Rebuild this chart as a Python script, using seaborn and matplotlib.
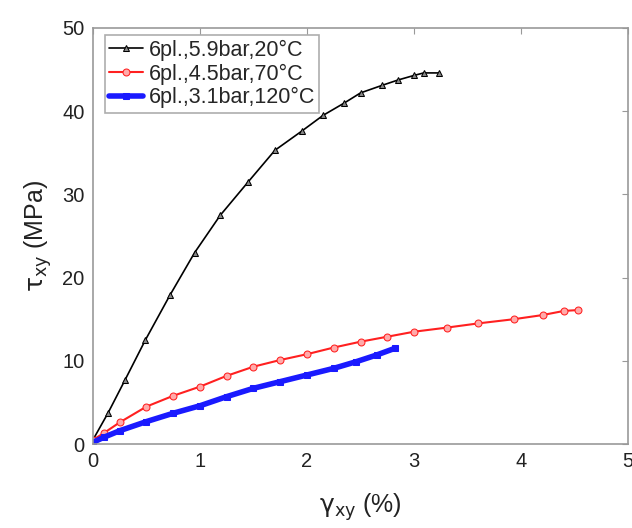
import matplotlib
matplotlib.use("Agg")
import matplotlib.pyplot as plt
import seaborn as sns

# shear stress-strain curves
labels = ["6pl.,5.9bar,20°C", "6pl.,4.5bar,70°C", "6pl.,3.1bar,120°C"]

strain_20 = [0, 0.14, 0.30, 0.49, 0.72, 0.95, 1.19, 1.45, 1.70, 1.95, 2.15,
             2.35, 2.50, 2.70, 2.85, 3.00, 3.09, 3.23]
stress_20 = [0.5, 3.7, 7.7, 12.5, 17.9, 23.0, 27.5, 31.5, 35.3, 37.6, 39.5,
             41.0, 42.2, 43.1, 43.75, 44.3, 44.6, 44.6]

strain_70 = [0, 0.1, 0.25, 0.5, 0.75, 1.0, 1.25, 1.5, 1.75, 2.0, 2.25, 2.5,
             2.75, 3.0, 3.31, 3.6, 3.93, 4.2, 4.40, 4.53]
stress_70 = [0.5, 1.3, 2.6, 4.5, 5.8, 6.9, 8.2, 9.3, 10.1, 10.8, 11.6, 12.3,
             12.9, 13.5, 14.0, 14.5, 15.0, 15.5, 16.0, 16.1]

strain_120 = [0, 0.1, 0.25, 0.5, 0.75, 1.0, 1.25, 1.5, 1.75, 2.0, 2.25, 2.46,
              2.65, 2.82]
stress_120 = [0.2, 0.8, 1.6, 2.7, 3.7, 4.6, 5.7, 6.7, 7.5, 8.3, 9.1, 9.9,
              10.7, 11.5]

sns.set_style("white")
plt.rcParams["font.family"] = ["Liberation Sans", "DejaVu Sans"]
plt.rcParams["mathtext.fontset"] = "dejavusans"

fig = plt.figure(figsize=(6.32, 5.28), dpi=100)
ax = fig.add_axes([0.147, 0.159, 0.847, 0.788])

sns.lineplot(x=strain_20, y=stress_20, ax=ax, sort=False, color="black", lw=1.2,
             marker="^", markersize=5, markerfacecolor="#888888",
             markeredgecolor="black", label=labels[0])
sns.lineplot(x=strain_70, y=stress_70, ax=ax, sort=False, color="#ff2020", lw=1.5,
             marker="o", markersize=5, markerfacecolor="#ffaaaa",
             markeredgecolor="#ff2020", label=labels[1])
sns.lineplot(x=strain_120, y=stress_120, ax=ax, sort=False, color="#1a1aff", lw=4,
             marker="s", markersize=5, markerfacecolor="#1a1aff",
             markeredgecolor="#1a1aff", label=labels[2])

ax.set_xlim(0, 5)
ax.set_ylim(0, 50)
ax.set_xticks(range(0, 6))
ax.set_yticks(range(0, 51, 10))
ax.tick_params(direction="in", top=True, right=True, length=4, color="#999999",
               labelsize=14.5, labelcolor="#222222", pad=6)
for s in ax.spines.values():
    s.set_color("#999999")
    s.set_linewidth(1.2)

ax.set_xlabel(r"$\mathrm{\gamma_{xy}}$ (%)", fontsize=18, color="#222222", labelpad=14)
ax.set_ylabel(r"$\mathrm{\tau_{xy}}$ (MPa)", fontsize=18, color="#222222", labelpad=6)

leg = ax.legend(loc="upper left", fontsize=15.5, frameon=True, fancybox=False,
                borderpad=0.2, labelspacing=0.12, handlelength=1.6,
                handletextpad=0.25, borderaxespad=0, bbox_to_anchor=(0.022, 0.982))
leg.get_frame().set_edgecolor("#999999")
leg.get_frame().set_linewidth(1.2)

fig.savefig("out.png", dpi=100)
